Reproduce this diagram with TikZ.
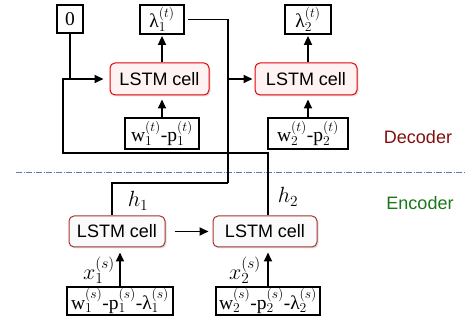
\RequirePackage{fix-cm}
\documentclass[tikz,border=0pt]{standalone}
\usepackage{fontspec}
\setmainfont{Liberation Serif}
\newfontfamily\arialfont{Liberation Sans}
\usetikzlibrary{arrows.meta,shadows,calc}
\begin{document}
\begin{tikzpicture}[x=1pt,y=-1pt,
  lbox/.style={draw=black,line width=1.8pt,fill=white,inner sep=0pt,align=center,font=\fontsize{19.5}{21}\selectfont},
  dcell/.style={draw=red!90!black,line width=1pt,rounded corners=5pt,fill=red!5,inner sep=0pt,
     font=\arialfont\fontsize{18}{20}\selectfont,drop shadow={opacity=0.25,shadow xshift=1.5pt,shadow yshift=-1.5pt}},
  ecell/.style={draw=red!55!black!80,line width=1pt,rounded corners=5pt,fill=gray!4,inner sep=0pt,
     font=\arialfont\fontsize{18}{20}\selectfont,drop shadow={opacity=0.25,shadow xshift=1.5pt,shadow yshift=-1.5pt}},
  wire/.style={line width=1.7pt,black},
  arr/.style={wire,-{Triangle[length=9pt,width=8pt]}},
  mlab/.style={font=\fontsize{22}{24}\selectfont}
]
\useasboundingbox (0,0) rectangle (466,323);
% separator
\draw[line width=0.8pt,color={rgb,255:red,95;green,120;blue,185},dash pattern=on 6pt off 1.5pt on 1pt off 1.5pt] (16,172) -- (466,172);
% decoder nodes
\node[lbox,minimum width=26pt,minimum height=28pt] (zero) at (70,19) {0};
\node[lbox,minimum width=44pt,minimum height=29pt] (lam1) at (162,19.5) {λ$_1^{(t)}$};
\node[lbox,minimum width=46pt,minimum height=29pt] (lam2) at (308,19.5) {λ$_2^{(t)}$};
\node[dcell,minimum width=99pt,minimum height=32pt] (d1) at (159.5,79) {LSTM cell};
\node[dcell,minimum width=102pt,minimum height=32pt] (d2) at (306,79) {LSTM cell};
\node[lbox,minimum width=74pt,minimum height=31pt] (in1) at (162,133.5) {w$_1^{(t)}$-p$_1^{(t)}$};
\node[lbox,minimum width=80pt,minimum height=31pt] (in2) at (308,133.5) {w$_2^{(t)}$-p$_2^{(t)}$};
% encoder nodes
\node[ecell,minimum width=96pt,minimum height=31pt] (e1) at (117,231.5) {LSTM cell};
\node[ecell,minimum width=104pt,minimum height=31pt] (e2) at (265,231.5) {LSTM cell};
\node[lbox,minimum width=106pt,minimum height=28pt] (s1) at (120,301) {w$_1^{(s)}$-p$_1^{(s)}$-λ$_1^{(s)}$};
\node[lbox,minimum width=104pt,minimum height=28pt] (s2) at (268,301) {w$_2^{(s)}$-p$_2^{(s)}$-λ$_2^{(s)}$};
% labels
\node[mlab] (h1) at (138,201) {$h_1$};
\node[mlab] (h2) at (288,197) {$h_2$};
\node[mlab] (x1) at (99,270) {$x_1^{(s)}$};
\node[mlab] (x2) at (245,270) {$x_2^{(s)}$};
\node[font=\arialfont\fontsize{18}{20}\selectfont,text={rgb,255:red,130;green,15;blue,15}] (dec) at (418,137) {Decoder};
\node[font=\arialfont\fontsize{18}{20}\selectfont,text={rgb,255:red,25;green,120;blue,25}] (enc) at (420,203) {Encoder};
% coordinates
\coordinate (c1) at (228,183);
\coordinate (c2) at (63,153);
% decoder arrows
\draw[arr,shorten >=1pt] (lam1.south |- d1.north) -- (lam1.south);
\draw[arr,shorten >=1pt] (lam2.south |- d2.north) -- (lam2.south);
\draw[arr,shorten >=4pt] (in1.north) -- (in1.north |- d1.south);
\draw[arr,shorten >=4pt] (in2.north) -- (in2.north |- d2.south);
\draw[wire] (zero.south) -- (zero.south |- d1.west);
% h2 path into first decoder cell
\draw[arr,shorten >=6pt] ([xshift=3pt]e2.north) |- (c2) |- (d1.west);
% lambda1 / h1 path into second decoder cell
\draw[wire,shorten <=3pt] (lam1.east) -| (c1);
\draw[wire] (c1) -| ([xshift=-5pt]e1.north);
\draw[arr,shorten >=2pt] (c1 |- d2.west) -- (d2.west);
% encoder arrows
\draw[arr,shorten <=9pt,shorten >=4pt] (e1.east) -- (e1.east -| e2.west);
\draw[arr,shorten >=5pt] (s1.north) -- (s1.north |- e1.south);
\draw[arr,shorten >=5pt] (s2.north) -- (s2.north |- e2.south);
\end{tikzpicture}
\end{document}
